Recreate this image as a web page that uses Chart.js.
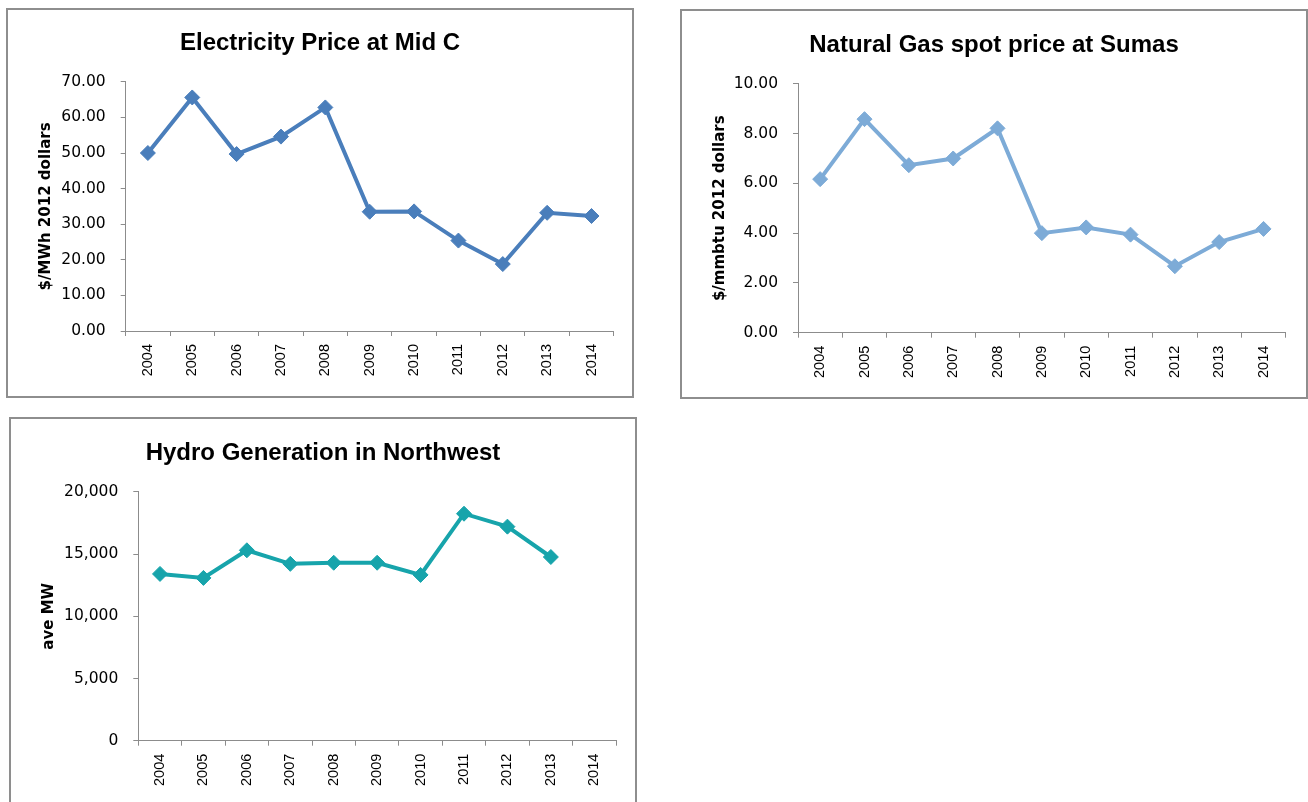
<!DOCTYPE html>
<html>
<head>
<meta charset="utf-8">
<script src="https://cdn.jsdelivr.net/npm/chart.js@4.4.1/dist/chart.umd.min.js"></script>
<style>
  html, body { margin: 0; padding: 0; background: #ffffff; width: 1308px; height: 802px; overflow: hidden; }
  .box { position: absolute; border: 2px solid #8e8e8e; background: #fff; box-sizing: content-box; }
  .box canvas { display: block; }
</style>
</head>
<body>
<div class="box" style="left:6px; top:8px; width:624px; height:386px;"><canvas id="c1" width="624" height="386"></canvas></div>
<div class="box" style="left:680px; top:9px; width:624px; height:386px;"><canvas id="c2" width="624" height="386"></canvas></div>
<div class="box" style="left:9px; top:417px; width:624px; height:386px;"><canvas id="c3" width="624" height="386"></canvas></div>
<script>
// ---- Data ----
const categories = ['2004', '2005', '2006', '2007', '2008', '2009', '2010', '2011', '2012', '2013', '2014'];
const electricityPrice = [50.0, 65.6, 49.7, 54.6, 62.8, 33.5, 33.6, 25.4, 18.8, 33.2, 32.3];
const gasPrice = [6.17, 8.58, 6.73, 7.00, 8.21, 4.00, 4.23, 3.94, 2.67, 3.64, 4.17];
const hydroGeneration = [13400, 13080, 15300, 14210, 14300, 14300, 13320, 18240, 17200, 14760, null];

const titles = ['Electricity Price at Mid C', 'Natural Gas spot price at Sumas', 'Hydro Generation in Northwest'];
const yTitles = ['$/MWh 2012 dollars', '$/mmbtu 2012 dollars', 'ave MW'];
const yMax = [70, 10, 20000];
const yStep = [10, 2, 5000];

Chart.defaults.animation = false;
Chart.defaults.devicePixelRatio = 1;

const AXIS = '#8c8c8c';

function makeChart(id, values, color, idx, fmt, geom) {
  return new Chart(document.getElementById(id), {
    type: 'line',
    data: {
      labels: categories,
      datasets: [{
        data: values,
        yAxisID: 'y',
        borderColor: color,
        backgroundColor: color,
        borderWidth: 4,
        tension: 0,
        pointStyle: 'rectRot',
        pointRadius: 7.5,
        pointBorderWidth: 1,
        pointBackgroundColor: color,
        pointBorderColor: color,
        spanGaps: false
      }]
    },
    options: {
      responsive: false,
      animation: false,
      layout: { padding: 0 },
      plugins: {
        legend: { display: false },
        tooltip: { enabled: false },
        title: {
          display: true,
          text: titles[idx],
          color: '#000',
          font: { family: '"Liberation Sans", Arial, sans-serif', size: 24, weight: 'bold' },
          padding: { top: geom.titleTop, bottom: geom.titleBottom }
        }
      },
      scales: {
        x: {
          type: 'category',
          offset: true,
          grid: { display: true, offset: true, drawOnChartArea: false, drawTicks: true, tickLength: 5, color: AXIS, lineWidth: 1 },
          border: { display: true, color: AXIS, width: 1 },
          ticks: {
            autoSkip: false, maxRotation: 90, minRotation: 90, padding: 8, color: '#000',
            font: { family: '"Liberation Sans", Arial, sans-serif', size: 14.5 }
          },
          afterFit: (s) => { s.height = geom.xHeight; }
        },
        y: {
          position: 'left',
          min: 0, max: yMax[idx],
          grid: { display: true, drawOnChartArea: false, drawTicks: true, tickLength: 5, color: AXIS, lineWidth: 1 },
          border: { display: true, color: AXIS, width: 1 },
          ticks: {
            stepSize: yStep[idx], padding: 15, color: '#000',
            font: { family: '"DejaVu Sans", sans-serif', size: 15.5 },
            callback: fmt
          },
          title: {
            display: true, text: yTitles[idx], color: '#000',
            font: { family: '"DejaVu Sans", sans-serif', size: 15, weight: 'bold' },
            padding: { top: 29, bottom: 0 }
          },
          afterFit: (s) => { s.width = geom.yWidth; }
        },
        spacer: {
          type: 'linear',
          position: 'right',
          display: true,
          grid: { display: false, drawTicks: false },
          border: { display: false },
          ticks: { display: false },
          afterFit: (s) => { s.width = geom.right; }
        }
      }
    }
  });
}

const fmt2 = (v) => Number(v).toFixed(2);
const fmtK = (v) => Number(v).toLocaleString('en-US');

makeChart('c1', electricityPrice, '#4A7EBB', 0, fmt2, { right: 18.3, titleTop: 19, titleBottom: 24, xHeight: 65, yWidth: 117.7 });
makeChart('c2', gasPrice, '#7DABD7', 1, fmt2, { right: 20.3, titleTop: 20, titleBottom: 24, xHeight: 64.3, yWidth: 116 });
makeChart('c3', hydroGeneration, '#17A4AB', 2, fmtK, { right: 19, titleTop: 20, titleBottom: 24, xHeight: 64.3, yWidth: 127.3 });
</script>
</body>
</html>
